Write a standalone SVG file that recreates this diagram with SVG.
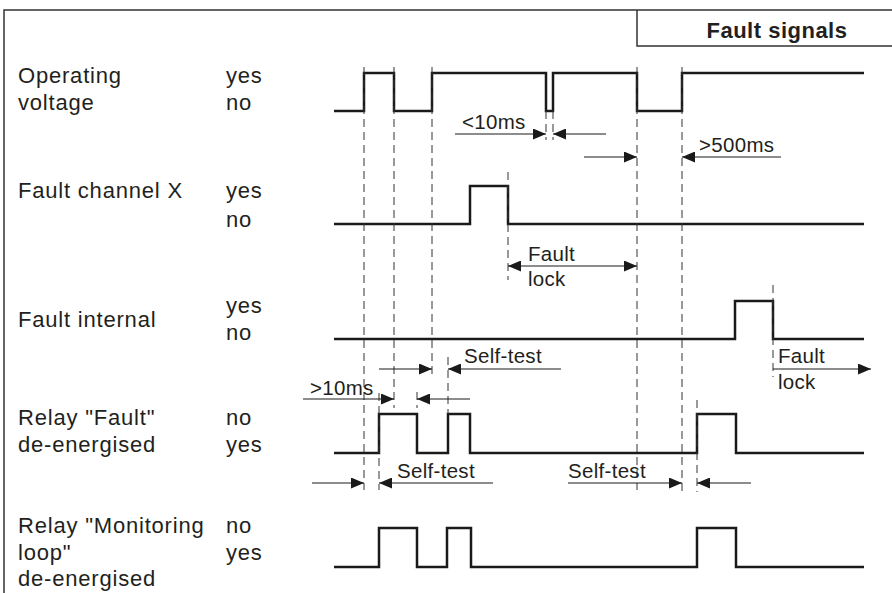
<svg xmlns="http://www.w3.org/2000/svg" width="892" height="593" viewBox="0 0 892 593">
<defs>
<marker id="ah" markerWidth="13" markerHeight="11" refX="13" refY="5.5" orient="auto-start-reverse" markerUnits="userSpaceOnUse">
<path d="M0,0 L13,5.5 L0,11 z" fill="#1a1a1a"/>
</marker>
</defs>
<style>
text{font-family:"Liberation Sans",Arial,sans-serif;fill:#231f20}
.lbl{font-size:22px;letter-spacing:0.8px}
.ann{font-size:20.5px;letter-spacing:0.3px}
.title{font-size:22px;font-weight:bold;letter-spacing:0.5px}
.frame{fill:none;stroke:#333;stroke-width:1.5}
.sig{fill:none;stroke:#1a1a1a;stroke-width:2.5;stroke-linejoin:miter}
.dash{fill:none;stroke:#333;stroke-width:1;stroke-dasharray:8 5}
.arr{fill:none;stroke:#1a1a1a;stroke-width:1.2;marker-end:url(#ah)}
.arr2{fill:none;stroke:#1a1a1a;stroke-width:1.2;marker-end:url(#ah);marker-start:url(#ah)}
</style>
<rect width="892" height="593" fill="#fff"/>
<g id="frame">
<path class="frame" d="M4,593 V10 H892"/>
<path class="frame" d="M637,10 V46 H892"/>
<text class="title" x="777" y="38" text-anchor="middle">Fault signals</text>
</g>
<g id="labels">
<text class="lbl" x="18" y="83">Operating</text>
<text class="lbl" x="18" y="110">voltage</text>
<text class="lbl" x="226" y="83">yes</text>
<text class="lbl" x="226" y="110">no</text>
<text class="lbl" x="18" y="198">Fault channel X</text>
<text class="lbl" x="226" y="198">yes</text>
<text class="lbl" x="226" y="227">no</text>
<text class="lbl" x="18" y="327">Fault internal</text>
<text class="lbl" x="226" y="313">yes</text>
<text class="lbl" x="226" y="340">no</text>
<text class="lbl" x="18" y="425">Relay "Fault"</text>
<text class="lbl" x="18" y="452">de-energised</text>
<text class="lbl" x="226" y="425">no</text>
<text class="lbl" x="226" y="452">yes</text>
<text class="lbl" x="18" y="533">Relay "Monitoring</text>
<text class="lbl" x="18" y="560">loop"</text>
<text class="lbl" x="18" y="586">de-energised</text>
<text class="lbl" x="226" y="533">no</text>
<text class="lbl" x="226" y="560">yes</text>
</g>
<g id="signals">
<path id="sig-voltage" class="sig" d="M334,111 H364 V73 H394 V111 H432 V73 H546 V111 H553 V73 H637 V111 H682 V73 H864"/>
<path id="sig-faultx" class="sig" d="M334,224 H470 V186 H508 V224 H864"/>
<path id="sig-internal" class="sig" d="M334,339 H735 V301 H773 V339 H864"/>
<path id="sig-relayfault" class="sig" d="M334,453 H379 V414 H417 V453 H448 V414 H470 V453 H697 V414 H736 V453 H864"/>
<path id="sig-relaymon" class="sig" d="M334,567 H379 V528 H417 V567 H447 V528 H471 V567 H697 V528 H736 V567 H864"/>
</g>
<g id="connectors">
<path class="dash" d="M364,67 V490 M394,67 V408 M432,67 V375 M546,111 V140 M553,111 V140 M508,172 V280 M637,67 V490 M682,67 V492 M379,393 V490 M448,357 V414 M417,392 V408 M697,400 V492 M773,285 V377"/>
<line class="arr" x1="455" y1="134" x2="546" y2="134"/>
<line class="arr" x1="606" y1="134" x2="553" y2="134"/>
<line class="arr" x1="584" y1="157" x2="637" y2="157"/>
<line class="arr" x1="781" y1="157" x2="682" y2="157"/>
<line class="arr2" x1="508" y1="266" x2="637" y2="266"/>
<line class="arr" x1="379" y1="369" x2="432" y2="369"/>
<line class="arr" x1="561" y1="369" x2="448" y2="369"/>
<line class="arr" x1="303" y1="399" x2="394" y2="399"/>
<line class="arr" x1="470" y1="399" x2="417" y2="399"/>
<line class="arr" x1="773" y1="369" x2="871" y2="369"/>
<line class="arr" x1="312" y1="483" x2="364" y2="483"/>
<line class="arr" x1="493" y1="483" x2="379" y2="483"/>
<line class="arr" x1="568" y1="483" x2="682" y2="483"/>
<line class="arr" x1="751" y1="483" x2="697" y2="483"/>
</g>
<g id="annotations">
<text class="ann" x="462" y="129">&lt;10ms</text>
<text class="ann" x="699" y="152">&gt;500ms</text>
<text class="ann" x="528" y="261">Fault</text>
<text class="ann" x="528" y="286">lock</text>
<text class="ann" x="464" y="363">Self-test</text>
<text class="ann" x="310" y="395">&gt;10ms</text>
<text class="ann" x="778" y="363">Fault</text>
<text class="ann" x="778" y="389">lock</text>
<text class="ann" x="397" y="478">Self-test</text>
<text class="ann" x="568" y="478">Self-test</text>
</g>
</svg>
